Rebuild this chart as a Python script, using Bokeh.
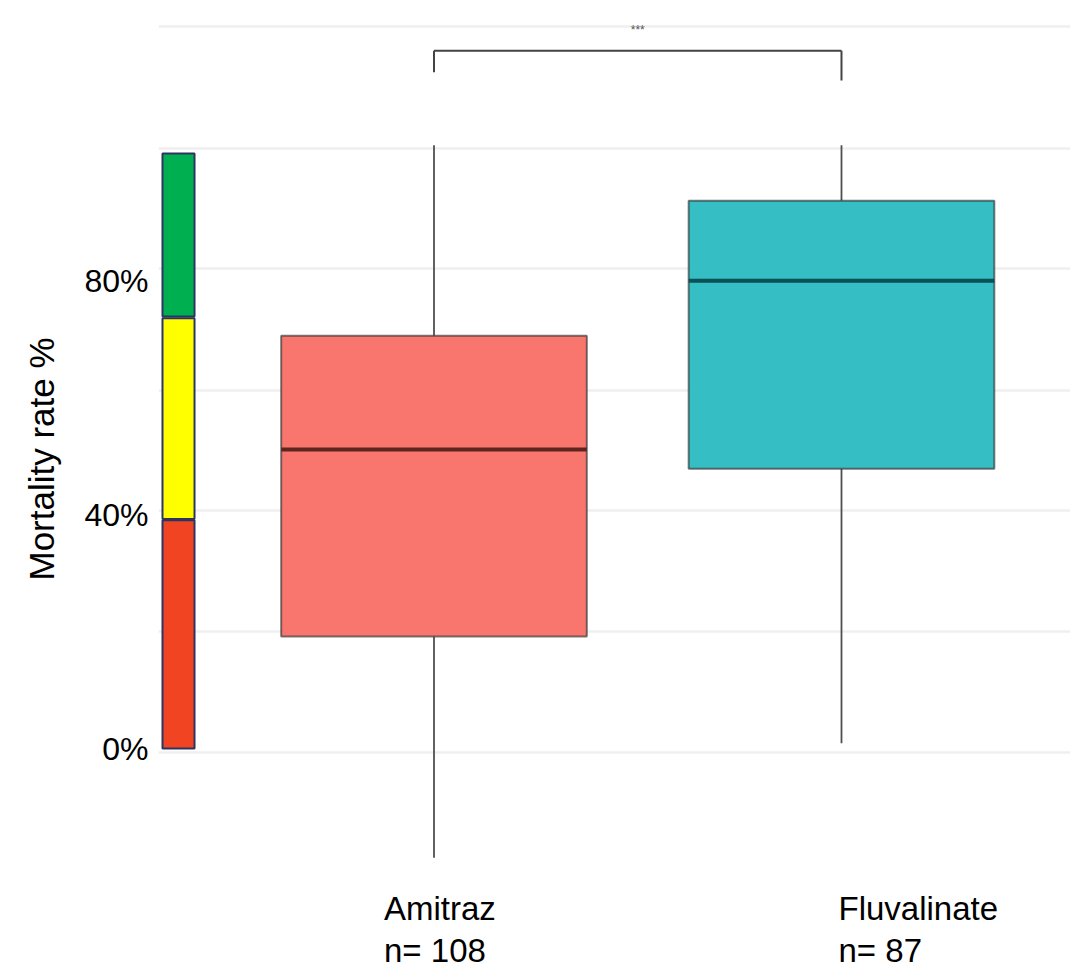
from bokeh.plotting import figure
from bokeh.models import Range1d, FixedTicker, Label, ColumnDataSource, Title
from bokeh.embed import file_html
from bokeh.resources import INLINE

# ---------------- data ----------------
categories = ["Amitraz", "Fluvalinate"]
sample_sizes = [108, 87]
whisker_low = [-18.7, 0.9]
q1 = [19.2, 47.9]
median = [51.2, 80.1]
q3 = [70.7, 93.8]
whisker_high = [103.3, 103.3]

y_ticks = [0, 40, 80]
y_tick_labels = ["0%", "40%", "80%"]
y_title = "Mortality rate  %"

band_low = [0.0, 39.3, 74.0]
band_high = [39.1, 73.7, 101.9]

sig_label = "***"
sig_y = 119.5
sig_drop = [115.8, 114.4]

grid_levels = [-0.7, 20.0, 40.7, 61.4, 82.2, 102.8, 123.6]

# ---------------- styles ----------------
box_fill = ["#F8766D", "#35BEC3"]
median_color = ["#5e2420", "#0b5054"]
band_colors = ["#F04423", "#FFFF00", "#00B050"]
FONT = "Liberation Sans"

pos = [i + 1 for i in range(len(categories))]
box_w = 0.75

p = figure(width=1070, height=970, output_backend="svg", toolbar_location=None,
           x_range=Range1d(0.3239, 2.562), y_range=Range1d(-38.0, 128.1),
           x_axis_location=None, y_axis_location="left",
           min_border_left=158, min_border_right=0, min_border_top=0, min_border_bottom=0)
p.outline_line_color = None
p.background_fill_color = "white"
p.border_fill_color = "white"

# grid
p.xgrid.visible = False
p.ygrid.ticker = FixedTicker(ticks=grid_levels)
p.ygrid.grid_line_color = "#efefef"
p.ygrid.grid_line_width = 2.5

# y axis
ax = p.yaxis[0]
ax.ticker = FixedTicker(ticks=y_ticks)
ax.major_label_overrides = {t: l for t, l in zip(y_ticks, y_tick_labels)}
ax.major_tick_line_color = None
ax.major_tick_out = 0
ax.major_tick_in = 0
ax.minor_tick_line_color = None
ax.minor_tick_out = 0
ax.axis_line_color = None
ax.major_label_standoff = 10
ax.major_label_text_font = FONT
ax.major_label_text_font_size = "32px"
ax.major_label_text_color = "black"

# y title (placed as a side title so it can sit where the reference has it)
p.add_layout(Title(text=y_title, align="left", vertical_align="top", offset=390, standoff=38,
                   text_font=FONT, text_font_size="35px", text_font_style="normal",
                   text_color="black"), "left")

# colour band (scale)
band_src = ColumnDataSource(dict(bottom=band_low, top=band_high, color=band_colors))
p.quad(left=0.3337, right=0.4123, bottom="bottom", top="top", fill_color="color",
       line_color="#2b3560", line_width=2, source=band_src)

# boxplot
src = ColumnDataSource(dict(
    x=pos, cat=categories, q1=q1, q3=q3, med=median, lo=whisker_low, hi=whisker_high,
    fill=box_fill, medc=median_color,
    x0=[x - box_w / 2 for x in pos], x1=[x + box_w / 2 for x in pos]))

p.segment(x0="x", y0="q3", x1="x", y1="hi", line_color="#505050", line_width=1.8, source=src)
p.segment(x0="x", y0="lo", x1="x", y1="q1", line_color="#505050", line_width=1.8, source=src)
p.vbar(x="x", width=box_w, bottom="q1", top="q3", fill_color="fill",
       line_color="#333333", line_alpha=0.65, line_width=2, source=src)
p.segment(x0="x0", y0="med", x1="x1", y1="med", line_color="medc", line_width=4, source=src)

# significance bracket
p.segment(x0=[pos[0], pos[0], pos[1]], y0=[sig_y, sig_drop[0], sig_drop[1]],
          x1=[pos[1], pos[0], pos[1]], y1=[sig_y, sig_y, sig_y],
          line_color="#444444", line_width=2)
p.add_layout(Label(x=(pos[0] + pos[1]) / 2, y=sig_y + 3.6, text=sig_label,
                   text_align="center", text_baseline="alphabetic",
                   text_font=FONT, text_font_size="12px", text_color="#555555"))

# category labels
label_x_offsets = [-50, -3]
for x, c, n, dx in zip(pos, categories, sample_sizes, label_x_offsets):
    p.add_layout(Label(x=x, y=-27.4, x_offset=dx, text=c, text_align="left",
                       text_baseline="alphabetic", text_font=FONT,
                       text_font_size="33px", text_color="black"))
    p.add_layout(Label(x=x, y=-34.6, x_offset=dx, text=f"n= {n}", text_align="left",
                       text_baseline="alphabetic", text_font=FONT,
                       text_font_size="33px", text_color="black"))

open("out.html", "w").write(file_html(p, INLINE))
